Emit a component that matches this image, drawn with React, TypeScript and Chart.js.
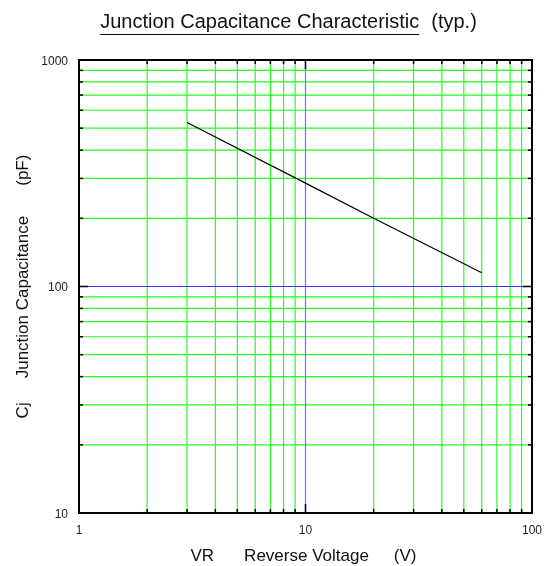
import React, { useEffect, useRef } from "react";
import { Chart, registerables } from "chart.js";

Chart.register(...registerables);

// ---- data ----
const voltages = [3, 10, 20, 60];
const capacitance = [530, 286, 200, 115];

const xGridValues = [1, 2, 3, 4, 5, 6, 7, 8, 9, 10, 20, 30, 40, 50, 60, 70, 80, 90, 100];
const yGridValues = [10, 20, 30, 40, 50, 60, 70, 80, 90, 100, 200, 300, 400, 500, 600, 700, 800, 900, 1000];
const xTickLabels = [1, 10, 100];
const yTickLabels = [10, 100, 1000];

const chartTitle = "Junction Capacitance Characteristic";
const chartTitleNote = "(typ.)";
const xTitleParts = ["VR", "Reverse Voltage", "(V)"];
const yTitleParts = ["Cj", "Junction Capacitance", "(pF)"];

const FONT = '"Liberation Sans", Arial, Helvetica, sans-serif';
const GREEN = "#22ff22";
const BLUE_X = "#6f6fff";
const BLUE_Y = "#3535ff";

const isDecade = (v: number) => Math.abs(Math.log10(v) - Math.round(Math.log10(v))) < 1e-9;

const gridPlugin = {
  id: "customGrid",
  beforeDatasetsDraw(chart: any) {
    const { ctx, chartArea: a, scales } = chart;
    const xs = scales.x;
    const ys = scales.y;
    ctx.save();
    ctx.lineWidth = 1.2;
    const seg = (x1: number, y1: number, x2: number, y2: number, c: string) => {
      ctx.strokeStyle = c;
      ctx.beginPath();
      ctx.moveTo(x1, y1);
      ctx.lineTo(x2, y2);
      ctx.stroke();
    };
    const majors: Array<() => void> = [];
    for (const v of xGridValues) {
      if (v === xs.min || v === xs.max) continue;
      const px = xs.getPixelForValue(v);
      if (isDecade(v)) majors.push(() => seg(px, a.top, px, a.bottom, BLUE_X));
      else seg(px, a.top, px, a.bottom, GREEN);
    }
    for (const v of yGridValues) {
      if (v === ys.min || v === ys.max) continue;
      const py = ys.getPixelForValue(v);
      if (isDecade(v)) majors.push(() => seg(a.left, py, a.right, py, BLUE_Y));
      else seg(a.left, py, a.right, py, GREEN);
    }
    majors.forEach((f) => f());
    ctx.restore();
  },
};

const decorPlugin = {
  id: "decor",
  afterDraw(chart: any) {
    const { ctx, chartArea: a, scales } = chart;
    const xs = scales.x;
    const ys = scales.y;
    ctx.save();
    ctx.strokeStyle = "#000";
    ctx.lineWidth = 1.5;
    const seg = (x1: number, y1: number, x2: number, y2: number) => {
      ctx.beginPath();
      ctx.moveTo(x1, y1);
      ctx.lineTo(x2, y2);
      ctx.stroke();
    };
    for (const v of xGridValues) {
      if (v === xs.min || v === xs.max) continue;
      const px = xs.getPixelForValue(v);
      const len = isDecade(v) ? 9 : 4;
      seg(px, a.top, px, a.top + len);
      seg(px, a.bottom, px, a.bottom - len);
    }
    for (const v of yGridValues) {
      if (v === ys.min || v === ys.max) continue;
      const py = ys.getPixelForValue(v);
      const len = isDecade(v) ? 9 : 4;
      seg(a.left, py, a.left + len, py);
      seg(a.right, py, a.right - len, py);
    }
    // frame
    ctx.lineWidth = 2;
    ctx.strokeRect(a.left, a.top, a.right - a.left, a.bottom - a.top);

    // chart title with underline
    ctx.fillStyle = "#111";
    ctx.font = `20px ${FONT}`;
    ctx.textBaseline = "alphabetic";
    ctx.textAlign = "left";
    const tW = ctx.measureText(chartTitle).width;
    const nW = ctx.measureText(chartTitleNote).width;
    const gapT = 12;
    const tX = (a.left + a.right) / 2 - 17 - (tW + gapT + nW) / 2;
    const tY = 28;
    ctx.fillText(chartTitle, tX, tY);
    ctx.fillText(chartTitleNote, tX + tW + gapT, tY);
    ctx.lineWidth = 1.2;
    ctx.strokeStyle = "#111";
    seg(tX, tY + 6.5, tX + tW, tY + 6.5);

    // x axis title
    ctx.font = `17px ${FONT}`;
    const xGaps = [30, 25];
    const xW = xTitleParts.map((s) => ctx.measureText(s).width);
    const xTotal = xW.reduce((s, w) => s + w, 0) + xGaps[0] + xGaps[1];
    let cx = (a.left + a.right) / 2 - 2 - xTotal / 2;
    xTitleParts.forEach((s, i) => {
      ctx.fillText(s, cx, 561);
      cx += xW[i] + (xGaps[i] || 0);
    });

    // y axis title (rotated)
    const yGaps = [24, 30];
    const yW = yTitleParts.map((s) => ctx.measureText(s).width);
    const yTotal = yW.reduce((s, w) => s + w, 0) + yGaps[0] + yGaps[1];
    ctx.save();
    ctx.translate(28, (a.top + a.bottom) / 2 + yTotal / 2);
    ctx.rotate(-Math.PI / 2);
    let cy = 0;
    yTitleParts.forEach((s, i) => {
      ctx.fillText(s, cy, 0);
      cy += yW[i] + (yGaps[i] || 0);
    });
    ctx.restore();
    ctx.restore();
  },
};

export default function App() {
  const ref = useRef<HTMLCanvasElement | null>(null);
  useEffect(() => {
    document.body.style.margin = "0";
    const canvas = ref.current!;
    const chart = new Chart(canvas, {
      type: "line",
      data: {
        datasets: [
          {
            data: voltages.map((v, i) => ({ x: v, y: capacitance[i] })),
            borderColor: "#000",
            borderWidth: 1.2,
            pointRadius: 0,
            fill: false,
            tension: 0,
          },
        ],
      },
      options: {
        animation: false,
        responsive: false,
        devicePixelRatio: 1,
        layout: { padding: { top: 60, right: 19, left: 0, bottom: 0 } },
        plugins: { legend: { display: false }, title: { display: false }, tooltip: { enabled: false } },
        scales: {
          x: {
            type: "logarithmic",
            min: 1,
            max: 100,
            afterBuildTicks: (s: any) => {
              s.ticks = xGridValues.map((v) => ({ value: v }));
            },
            afterFit: (s: any) => {
              s.height = 53;
              s.paddingLeft = 0;
              s.paddingRight = 0;
            },
            border: { display: false },
            grid: { display: false, drawTicks: false, tickLength: 0 },
            ticks: {
              autoSkip: false,
              maxRotation: 0,
              padding: 10,
              color: "#222",
              font: { family: FONT, size: 12 },
              callback: (v: any) => (xTickLabels.includes(Number(v)) ? String(v) : ""),
            },
          },
          y: {
            type: "logarithmic",
            min: 10,
            max: 1000,
            afterBuildTicks: (s: any) => {
              s.ticks = yGridValues.map((v) => ({ value: v }));
            },
            afterFit: (s: any) => {
              s.width = 79;
              s.paddingTop = 0;
              s.paddingBottom = 0;
            },
            border: { display: false },
            grid: { display: false, drawTicks: false, tickLength: 0 },
            ticks: {
              autoSkip: false,
              padding: 11,
              labelOffset: 1.5,
              color: "#222",
              font: { family: FONT, size: 12 },
              callback: (v: any) => (yTickLabels.includes(Number(v)) ? String(v) : ""),
            },
          },
        },
      },
      plugins: [gridPlugin, decorPlugin],
    } as any);
    return () => chart.destroy();
  }, []);
  return <canvas ref={ref} width={551} height={566} style={{ display: "block" }} />;
}
